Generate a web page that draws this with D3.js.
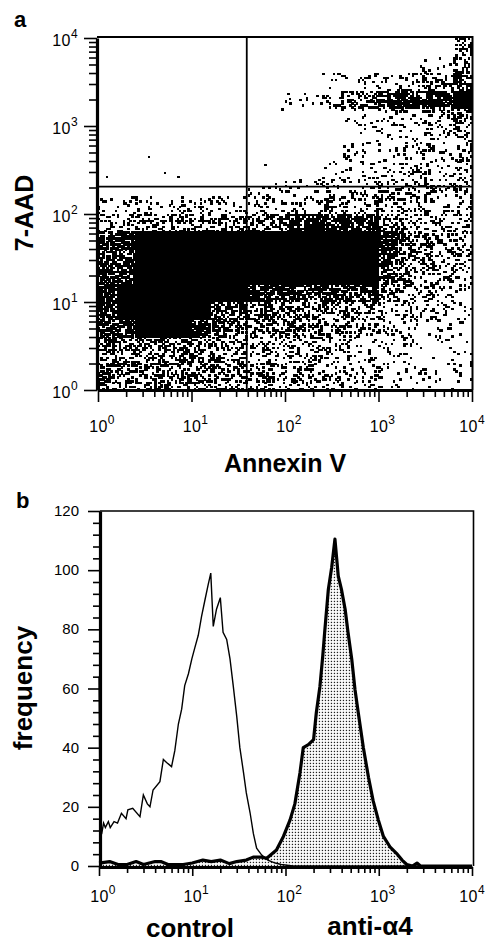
<!DOCTYPE html>
<html>
<head>
<meta charset="utf-8">
<script src="https://cdn.jsdelivr.net/npm/d3@7"></script>
<style>
  body { margin: 0; background: #fff; }
  text { font-family: "Liberation Sans", Arial, sans-serif; fill: #000; }
</style>
</head>
<body>
<svg id="fig" width="486" height="943"></svg>
<script>
// ---------- data ----------
const decades = [1, 10, 100, 1000, 10000];
const decadeExp = ["0", "1", "2", "3", "4"];
const freqTicks = [0, 20, 40, 60, 80, 100, 120];

// panel a: dot density (0 = empty, 9 = solid),
// columns = Annexin V in steps of 0.2 decade, rows = 7-AAD bands from 10^4 down to 10^0
const densityRows = [
    "00000000000000000004",
    "00000000000000000115",
    "00000000000011223457",
    "00000000001124578889",
    "00000000000001122335",
    "00000000000000111223",
    "00000000000001112223",
    "00000000000011223323",
    "00000000111122233333",
    "12222222222233333322",
    "34555555568888864333",
    "68999999999999985433",
    "78999999999999986433",
    "78999999999999975332",
    "89999999887777853322",
    "89999977665555533221",
    "77999865444444322111",
    "55666544333332222111",
    "55555544333332211111",
    "55555544333332211111"
];
// single stray events [Annexin V, 7-AAD]
const outliers = [[1.25, 263], [3.5, 445], [5.2, 294], [7.2, 263], [62, 363], [94, 1550], [112, 2040]];
const quadAnnexin = 39;
const quadAAD = 205;

// panel b histograms [fluorescence, frequency]
const controlHist = [
    [1.0, 64], [1.03, 11], [1.07, 11], [1.12, 14.5], [1.17, 13], [1.26, 15], [1.32, 13], [1.45, 15],
    [1.58, 14.5], [1.74, 17.8], [1.95, 16], [2.04, 19], [2.3, 19.5], [2.75, 16.7], [2.99, 24], [3.3, 21],
    [3.52, 20], [3.8, 25.7], [4.5, 28.5], [4.9, 36], [5.3, 35], [6.0, 33.6], [6.5, 39], [7.1, 48],
    [7.7, 53], [8.3, 61], [9.1, 65], [9.9, 70], [10.7, 74], [11.6, 78], [12.6, 84.5], [13.7, 90],
    [14.8, 95], [15.8, 99], [16.8, 81], [18.2, 86.8], [20, 90.7], [21.4, 79], [23.4, 76.6], [25.4, 70],
    [27.5, 61], [30, 50.6], [32.4, 40], [35.5, 31.5], [38, 24.7], [41.7, 18], [45.2, 11], [49, 6],
    [55.6, 3.7], [64.6, 2], [77.6, 1], [90, 0.5], [120, 0], [10000, 0]
];
const antiHist = [
    [1.0, 1], [1.3, 1.5], [1.6, 0.5], [2.0, 0.5], [2.5, 1.5], [3, 0.5], [4, 1.5], [4.6, 1.5], [5.5, 0.5],
    [8, 0.5], [10, 1], [13, 2], [16, 1.5], [20, 2], [25, 0.8], [30, 1.5], [38, 2], [45, 3], [55, 3],
    [63, 2.6], [80, 5.4], [95, 10], [112, 15.6], [126, 21], [143, 31.5], [155, 40], [176, 41], [200, 42.7],
    [214, 51.8], [234, 60.7], [251, 71], [263, 79], [288, 93.5], [313, 101], [339, 110.5], [368, 98],
    [398, 93.5], [436, 86.8], [468, 79], [513, 70], [556, 59.7], [603, 51.8], [684, 40], [776, 30],
    [871, 22], [989, 15.6], [1122, 10], [1318, 6.5], [1549, 4.3], [1778, 2], [1995, 0.5], [2300, 0],
    [2570, 1], [2800, 0], [10000, 0]
];

const svg = d3.select("#fig");

// ---------- panel a ----------
const xA = d3.scaleLog().domain([1, 1e4]).range([98, 472]);
const yA = d3.scaleLog().domain([1, 1e4]).range([390, 38]);

svg.append("clipPath").attr("id", "clipA")
    .append("rect").attr("x", 98).attr("y", 37).attr("width", 374).attr("height", 352);

// fixed hash-based dither mask so a density level turns into a speckle of dots
function ditherMask(i, j) {
    const s = Math.sin(i * 12.9898 + j * 78.233) * 43758.5453;
    return s - Math.floor(s);
}
// dots overlap a little, so thin the mask to keep the printed coverage near level/9
const fillShare = level => level >= 9 ? 1 : 1 - Math.pow(1 - level / 9, 0.68);

// dots: 9x9 sub-positions per density cell
const sub = 9;
const nCols = 20, nRows = 20;
const step = 0.2 / sub;
const dots = [];
for (let i = 0; i < nCols * sub; i++) {
    for (let j = 0; j < nRows * sub; j++) {
        const c = Math.floor(i / sub);
        const r = nRows - 1 - Math.floor(j / sub);
        const level = +densityRows[r][c];
        if (level > 0 && ditherMask(i, j) < fillShare(level)) {
            dots.push([Math.pow(10, (i + 0.5) * step), Math.pow(10, (j + 0.5) * step)]);
        }
    }
}
const dotLayer = svg.append("g")
    .attr("clip-path", "url(#clipA)")
    .attr("shape-rendering", "crispEdges");
dotLayer.selectAll("rect.dot")
    .data(dots.concat(outliers))
    .join("rect")
    .attr("class", "dot")
    .attr("x", d => xA(d[0]) - 1.1)
    .attr("y", d => yA(d[1]) - 1.1)
    .attr("width", 2.5)
    .attr("height", 2.4)
    .attr("fill", "#000");

// quadrant markers
svg.append("line")
    .attr("x1", xA(quadAnnexin)).attr("x2", xA(quadAnnexin))
    .attr("y1", yA(1e4) - 1).attr("y2", yA(1))
    .attr("stroke", "#000").attr("stroke-width", 1.8);
svg.append("line")
    .attr("x1", xA(1)).attr("x2", xA(1e4))
    .attr("y1", yA(quadAAD)).attr("y2", yA(quadAAD))
    .attr("stroke", "#000").attr("stroke-width", 1.8);

// frame
svg.append("path")
    .attr("d", `M97,37 H472.5 V390`)
    .attr("fill", "none").attr("stroke", "#000").attr("stroke-width", 2);

const logTicks = [];
decades.slice(0, 4).forEach(d => { for (let k = 1; k < 10; k++) logTicks.push(d * k); });
logTicks.push(1e4);
const isMajor = v => decades.includes(v);

function styleAxis(g, major, minor, horiz) {
    g.select(".domain").attr("stroke-width", 3.2);
    g.selectAll(".tick line")
        .attr("stroke-width", 1.6)
        .each(function (d) {
            const len = major(d) ? minor[0] : minor[1];
            d3.select(this).attr(horiz ? "y2" : "x2", horiz ? len : -len);
        });
}

svg.append("g")
    .attr("transform", "translate(97,0)")
    .call(d3.axisLeft(yA).tickValues(logTicks).tickFormat("").tickSizeOuter(0))
    .call(g => styleAxis(g, isMajor, [13, 8], false));

svg.append("g")
    .attr("transform", "translate(0,390)")
    .call(d3.axisBottom(xA).tickValues(logTicks).tickFormat("").tickSizeOuter(0))
    .call(g => styleAxis(g, isMajor, [12, 7], true));

function powLabel(x, y, exp, anchor) {
    const t = svg.append("text")
        .attr("x", x).attr("y", y)
        .attr("font-size", 16)
        .attr("letter-spacing", 0.4)
        .attr("text-anchor", anchor);
    t.append("tspan").text("10");
    t.append("tspan").attr("font-size", 12).attr("dy", -8).text(exp);
}

function bottomLabels(scale, y) {
    decades.forEach((d, i) => {
        if (d === 1e4) powLabel(485, y, decadeExp[i], "end");
        else powLabel(scale(d) + 4, y, decadeExp[i], "middle");
    });
}

decades.forEach((d, i) => powLabel(78, yA(d) + 8, decadeExp[i], "end"));
bottomLabels(xA, 432);

svg.append("text").attr("x", 14).attr("y", 27)
    .attr("font-size", 22).attr("font-weight", "bold").text("a");
svg.append("text")
    .attr("transform", "translate(33,213) rotate(-90)")
    .attr("text-anchor", "middle")
    .attr("font-size", 25).attr("font-weight", "bold").text("7-AAD");
svg.append("text").attr("x", 285).attr("y", 472)
    .attr("text-anchor", "middle")
    .attr("font-size", 25).attr("font-weight", "bold").text("Annexin V");

// ---------- panel b ----------
const xB = d3.scaleLog().domain([1, 1e4]).range([99, 472]);
const yB = d3.scaleLinear().domain([0, 120]).range([866, 511]);

const defs = svg.append("defs");
const pat = defs.append("pattern").attr("id", "dotfill")
    .attr("width", 3).attr("height", 3).attr("patternUnits", "userSpaceOnUse");
pat.append("rect").attr("width", 3).attr("height", 3).attr("fill", "#fff");
pat.append("rect").attr("x", 0.8).attr("y", 0.8).attr("width", 1.3).attr("height", 1.3).attr("fill", "#222");

svg.append("path")
    .datum(antiHist)
    .attr("d", d3.area().x(d => xB(d[0])).y0(yB(0)).y1(d => yB(d[1])))
    .attr("fill", "url(#dotfill)");

svg.append("path")
    .datum(controlHist)
    .attr("d", d3.line().x(d => xB(d[0])).y(d => yB(d[1])))
    .attr("fill", "none").attr("stroke", "#000").attr("stroke-width", 1.4);

svg.append("path")
    .datum(antiHist)
    .attr("d", d3.line().x(d => xB(d[0])).y(d => yB(d[1])))
    .attr("fill", "none").attr("stroke", "#000").attr("stroke-width", 3.2)
    .attr("stroke-linejoin", "round");

svg.append("path")
    .attr("d", `M100,${yB(120)} H473.5 V866`)
    .attr("fill", "none").attr("stroke", "#000").attr("stroke-width", 1.6);

svg.append("g")
    .attr("transform", "translate(100,0)")
    .call(d3.axisLeft(yB).tickValues(d3.range(0, 121, 4)).tickFormat("").tickSizeOuter(0))
    .call(g => styleAxis(g, v => freqTicks.includes(v), [12, 7], false));

svg.append("g")
    .attr("transform", "translate(0,867)")
    .call(d3.axisBottom(xB).tickValues(logTicks).tickFormat("").tickSizeOuter(0))
    .call(g => styleAxis(g, isMajor, [9, 6], true));

svg.append("g").selectAll("text")
    .data(freqTicks)
    .join("text")
    .attr("x", 79)
    .attr("y", d => yB(d) + 5)
    .attr("text-anchor", "end")
    .attr("font-size", 15)
    .text(d => d);

bottomLabels(xB, 902);

svg.append("text").attr("x", 16).attr("y", 508)
    .attr("font-size", 22).attr("font-weight", "bold").text("b");
svg.append("text")
    .attr("transform", "translate(32,688) rotate(-90)")
    .attr("text-anchor", "middle")
    .attr("font-size", 26).attr("font-weight", "bold").text("frequency");
svg.append("text").attr("x", 190).attr("y", 937)
    .attr("text-anchor", "middle")
    .attr("font-size", 26).attr("font-weight", "bold").text("control");
svg.append("text").attr("x", 370).attr("y", 935)
    .attr("text-anchor", "middle")
    .attr("font-size", 26).attr("font-weight", "bold").text("anti-α4");
</script>
</body>
</html>
